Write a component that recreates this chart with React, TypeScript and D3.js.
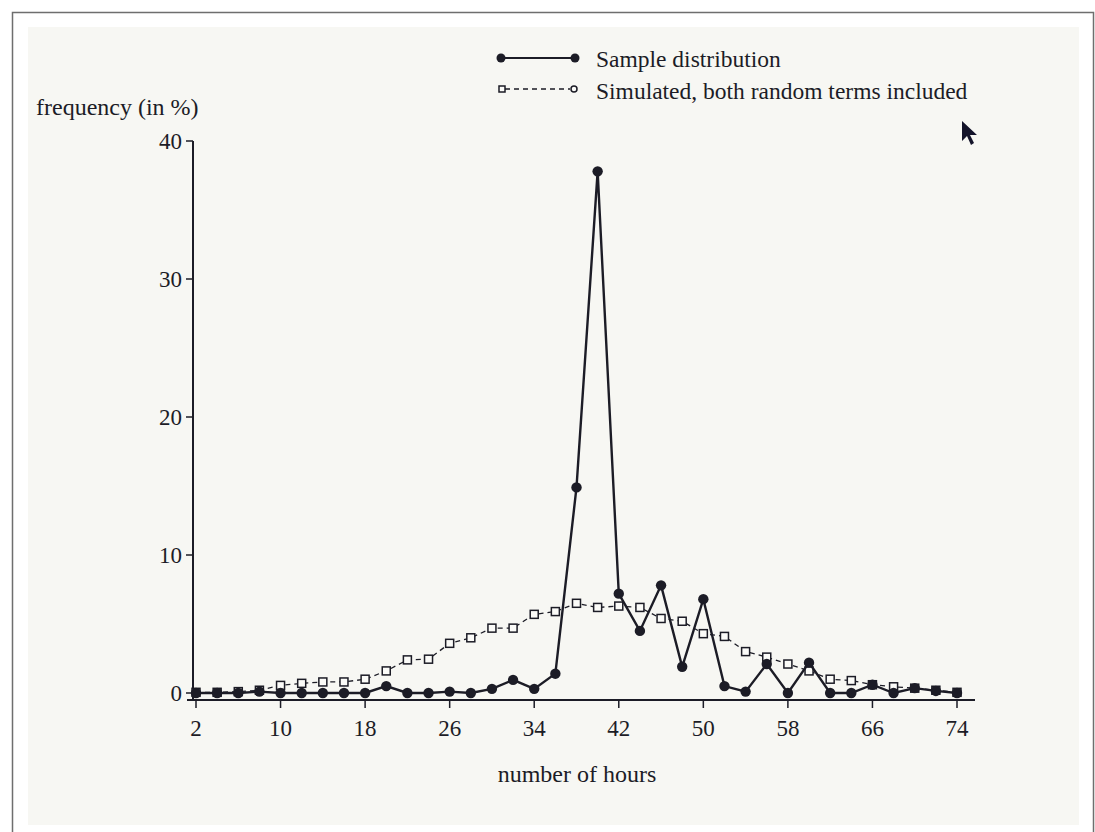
import * as d3 from "d3";
import React, { useEffect, useRef } from "react";

const hours = [
  2, 4, 6, 8, 10, 12, 14, 16, 18, 20, 22, 24, 26, 28, 30, 32, 34, 36, 38,
  40, 42, 44, 46, 48, 50, 52, 54, 56, 58, 60, 62, 64, 66, 68, 70, 72, 74,
];
const sample = [
  0, 0, 0, 0.1, 0, 0, 0, 0, 0, 0.5, 0, 0, 0.1, 0, 0.3, 0.95, 0.3, 1.4, 14.9,
  37.8, 7.2, 4.5, 7.8, 1.9, 6.8, 0.5, 0.1, 2.1, 0, 2.2, 0, 0, 0.6, 0, 0.35,
  0.15, 0,
];
const simulated = [
  0.05, 0.05, 0.1, 0.2, 0.55, 0.7, 0.8, 0.8, 1.0, 1.6, 2.4, 2.45, 3.6, 4.0,
  4.7, 4.7, 5.7, 5.9, 6.5, 6.2, 6.3, 6.2, 5.4, 5.2, 4.3, 4.1, 3.0, 2.6, 2.1,
  1.6, 1.0, 0.9, 0.6, 0.45, 0.35, 0.2, 0.05,
];
const xTicks = [2, 10, 18, 26, 34, 42, 50, 58, 66, 74];
const yTicks = [0, 10, 20, 30, 40];
const legendLabels = [
  "Sample distribution",
  "Simulated, both random terms included",
];

const W = 1095;
const H = 832;
const ink = "#1c1c26";
const font = "'Liberation Serif', 'DejaVu Serif', serif";

const App: React.FC = () => {
  const ref = useRef<SVGSVGElement>(null);

  useEffect(() => {
    if (!ref.current) return;
    const svg = d3.select(ref.current);
    svg.selectAll("*").remove();

    // photo frame + paper
    svg.append("rect").attr("width", W).attr("height", H).attr("fill", "#ffffff");
    svg
      .append("rect")
      .attr("x", 12.5)
      .attr("y", 12.5)
      .attr("width", W - 14)
      .attr("height", H)
      .attr("fill", "#ffffff")
      .attr("stroke", "#6e6e6e")
      .attr("stroke-width", 1.5);
    svg
      .append("rect")
      .attr("x", 28)
      .attr("y", 27)
      .attr("width", 1051)
      .attr("height", 798)
      .attr("fill", "#f7f7f3");

    const x = d3.scaleLinear().domain([2, 74]).range([196, 957]);
    const y = d3.scaleLinear().domain([0, 40]).range([693, 141]);
    const axisY = 700;
    const axisX = 193;

    const g = svg.append("g");

    // y axis
    g.append("line")
      .attr("x1", axisX)
      .attr("x2", axisX)
      .attr("y1", y(40))
      .attr("y2", axisY)
      .attr("stroke", ink)
      .attr("stroke-width", 2);
    g.selectAll(".yt")
      .data(yTicks)
      .enter()
      .append("line")
      .attr("x1", axisX - 7)
      .attr("x2", axisX)
      .attr("y1", (d) => y(d))
      .attr("y2", (d) => y(d))
      .attr("stroke", ink)
      .attr("stroke-width", 1.5);
    g.selectAll(".yl")
      .data(yTicks)
      .enter()
      .append("text")
      .attr("x", axisX - 11)
      .attr("y", (d) => y(d))
      .attr("dy", "0.35em")
      .attr("text-anchor", "end")
      .style("font-family", font)
      .style("font-size", "23px")
      .style("fill", ink)
      .text((d) => d);

    // x axis
    g.append("line")
      .attr("x1", axisX - 6)
      .attr("x2", 975)
      .attr("y1", axisY)
      .attr("y2", axisY)
      .attr("stroke", ink)
      .attr("stroke-width", 2);
    g.selectAll(".xt")
      .data(xTicks)
      .enter()
      .append("line")
      .attr("x1", (d) => x(d))
      .attr("x2", (d) => x(d))
      .attr("y1", axisY)
      .attr("y2", axisY + 8)
      .attr("stroke", ink)
      .attr("stroke-width", 1.5);
    g.selectAll(".xl")
      .data(xTicks)
      .enter()
      .append("text")
      .attr("x", (d) => x(d))
      .attr("y", 736)
      .attr("text-anchor", "middle")
      .style("font-family", font)
      .style("font-size", "23px")
      .style("fill", ink)
      .text((d) => d);

    g.append("text")
      .attr("x", 577)
      .attr("y", 782)
      .attr("text-anchor", "middle")
      .style("font-family", font)
      .style("font-size", "24px")
      .style("fill", ink)
      .text("number of hours");
    g.append("text")
      .attr("x", 36)
      .attr("y", 115)
      .style("font-family", font)
      .style("font-size", "24px")
      .style("fill", ink)
      .text("frequency (in %)");

    const line = d3
      .line<number>()
      .x((_, i) => x(hours[i]))
      .y((d) => y(d));

    // simulated (dashed, open squares)
    g.append("path")
      .attr("d", line(simulated) || "")
      .attr("fill", "none")
      .attr("stroke", ink)
      .attr("stroke-width", 1.3)
      .attr("stroke-dasharray", "5,4");
    g.selectAll(".sq")
      .data(simulated)
      .enter()
      .append("rect")
      .attr("x", (_, i) => x(hours[i]) - 4)
      .attr("y", (d) => y(d) - 4)
      .attr("width", 8)
      .attr("height", 8)
      .attr("fill", "#fbfbf8")
      .attr("stroke", ink)
      .attr("stroke-width", 1.5);

    // sample (solid, filled dots)
    g.append("path")
      .attr("d", line(sample) || "")
      .attr("fill", "none")
      .attr("stroke", ink)
      .attr("stroke-width", 2.4);
    g.selectAll(".dot")
      .data(sample)
      .enter()
      .append("circle")
      .attr("cx", (_, i) => x(hours[i]))
      .attr("cy", (d) => y(d))
      .attr("r", 5.2)
      .attr("fill", ink);

    // legend
    const lg = svg.append("g");
    lg.append("line")
      .attr("x1", 501)
      .attr("x2", 575)
      .attr("y1", 58)
      .attr("y2", 58)
      .attr("stroke", ink)
      .attr("stroke-width", 1.8);
    lg.selectAll("circle")
      .data([501, 575])
      .enter()
      .append("circle")
      .attr("cx", (d) => d)
      .attr("cy", 58)
      .attr("r", 4.5)
      .attr("fill", ink);
    lg.append("line")
      .attr("x1", 505)
      .attr("x2", 570)
      .attr("y1", 89)
      .attr("y2", 89)
      .attr("stroke", ink)
      .attr("stroke-width", 1.3)
      .attr("stroke-dasharray", "5,4");
    lg.append("rect")
      .attr("x", 499)
      .attr("y", 86)
      .attr("width", 6)
      .attr("height", 6)
      .attr("fill", "#fbfbf8")
      .attr("stroke", ink)
      .attr("stroke-width", 1.5);
    lg.append("circle")
      .attr("cx", 574)
      .attr("cy", 89)
      .attr("r", 3)
      .attr("fill", "#fbfbf8")
      .attr("stroke", ink)
      .attr("stroke-width", 1.5);
    lg.selectAll("text")
      .data(legendLabels)
      .enter()
      .append("text")
      .attr("x", 596)
      .attr("y", (_, i) => 67 + i * 32)
      .style("font-family", font)
      .style("font-size", "23.5px")
      .style("fill", ink)
      .text((d) => d);

    // mouse pointer visible in the photo
    svg
      .append("path")
      .attr("d", "M962,121 L962,141 L967,136 L971,145 L974,143 L970,135 L977,135 Z")
      .attr("fill", "#14142a");
  }, []);

  return (
    <svg
      ref={ref}
      width={W}
      height={H}
      style={{ position: "absolute", left: 0, top: 0 }}
    ></svg>
  );
};

export default App;
